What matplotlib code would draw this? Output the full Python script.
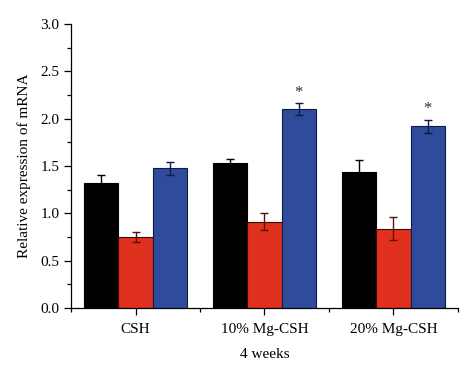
import numpy as np
import matplotlib.pyplot as plt
from matplotlib.ticker import MultipleLocator, FixedLocator

# Datos
groups = ['CSH', '10% Mg-CSH', '20% Mg-CSH']
black_vals = [1.32, 1.53, 1.44]
black_err = [0.08, 0.045, 0.12]
red_vals = [0.75, 0.91, 0.84]
red_err = [0.05, 0.09, 0.12]
blue_vals = [1.475, 2.10, 1.92]
blue_err = [0.065, 0.06, 0.07]
star_on_blue = [False, True, True]

plt.rcParams['font.family'] = ['Liberation Serif', 'DejaVu Serif']

fig = plt.figure(figsize=(4.74, 3.79), dpi=100)
ax = fig.add_axes([0.150, 0.187, 0.816, 0.750])

x = np.arange(1, len(groups) + 1)
w = 0.8 / 3

series = [
    (black_vals, black_err, '#000000', '#000000', 'black'),
    (red_vals, red_err, '#e0301e', '#3a0a05', '#5a1208'),
    (blue_vals, blue_err, '#2f4c9c', '#0d1a45', '#0d1a45'),
]
for i, (vals, errs, fc, ec, errc) in enumerate(series):
    pos = x + (i - 1) * w
    ax.bar(pos, vals, width=w, color=fc, edgecolor=ec, linewidth=0.8, zorder=2)
    ax.errorbar(pos, vals, yerr=errs, fmt='none', ecolor=errc, elinewidth=1.0,
                capsize=3, capthick=1.0, zorder=3)

# Asteriscos de significancia
for xi, v, e, s in zip(x + w, blue_vals, blue_err, star_on_blue):
    if s:
        ax.text(xi, v + e + 0.03, '*', ha='center', va='bottom', fontsize=12, color='#333333')

ax.set_xlim(0.5, 3.5)
ax.set_ylim(0, 3.0)
ax.set_xticks(x)
ax.set_xticklabels(groups, fontsize=11)
ax.xaxis.set_minor_locator(FixedLocator([0.5, 1.5, 2.5, 3.5]))
ax.yaxis.set_major_locator(MultipleLocator(0.5))
ax.yaxis.set_minor_locator(MultipleLocator(0.25))
ax.yaxis.set_major_formatter(plt.FormatStrFormatter('%.1f'))
ax.tick_params(axis='both', which='major', length=5, width=0.9, labelsize=11, direction='out')
ax.tick_params(axis='both', which='minor', length=3, width=0.9, direction='out')
ax.tick_params(axis='x', pad=6)

for sp in ['top', 'right']:
    ax.spines[sp].set_visible(False)
for sp in ['left', 'bottom']:
    ax.spines[sp].set_linewidth(0.9)

ax.set_ylabel('Relative expression of mRNA', fontsize=11, labelpad=7)
ax.set_xlabel('4 weeks', fontsize=11, labelpad=8)

fig.savefig('out.png', dpi=100)
